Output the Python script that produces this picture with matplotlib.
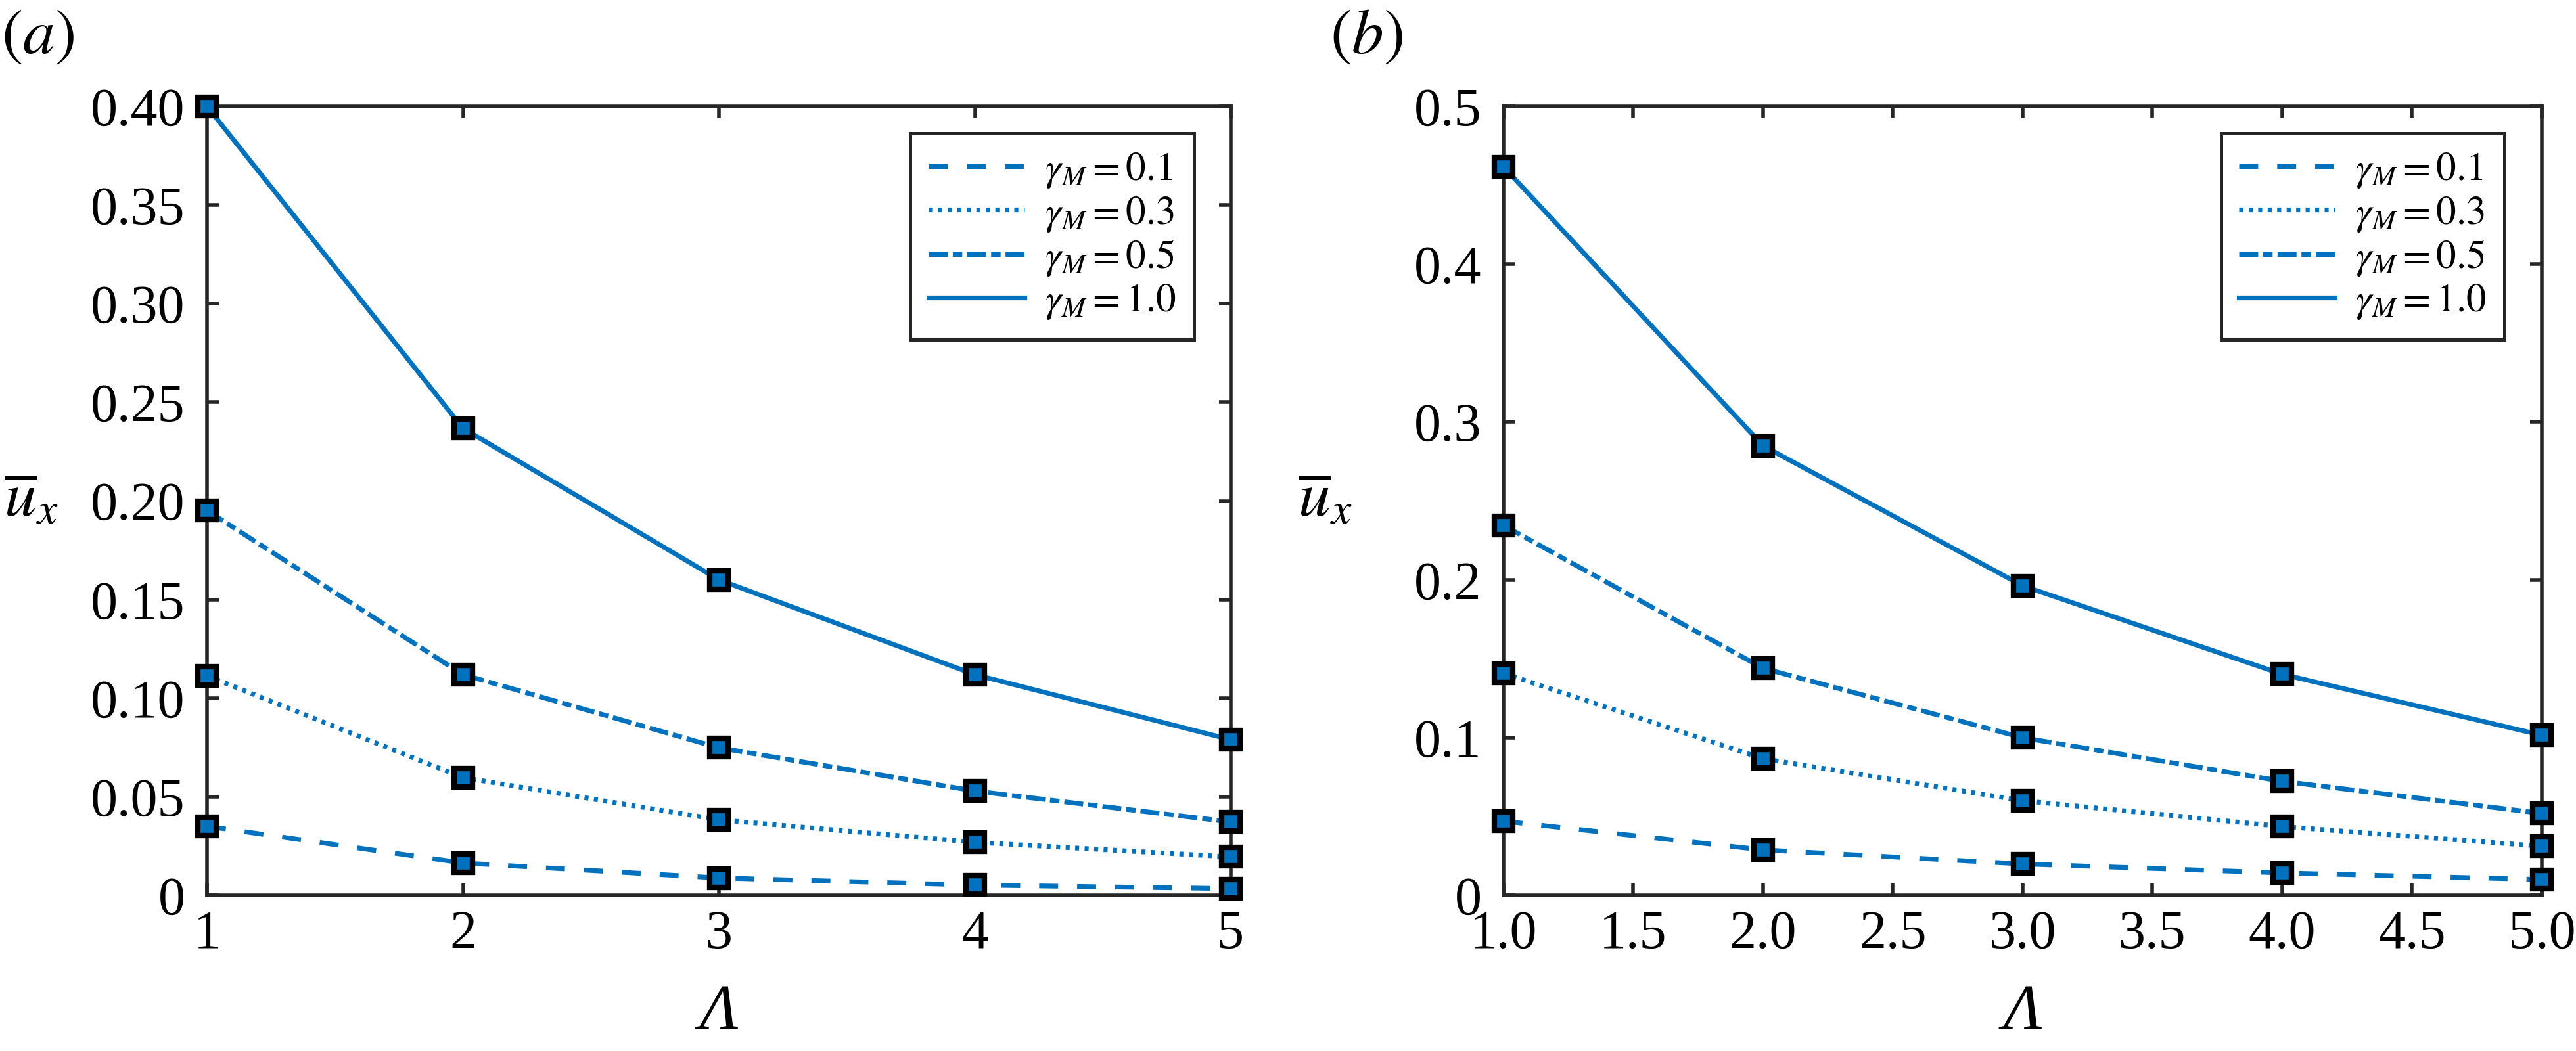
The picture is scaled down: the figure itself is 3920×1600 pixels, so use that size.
import matplotlib
matplotlib.use("Agg")
import matplotlib.pyplot as plt

plt.rcParams['font.family'] = ['Liberation Serif', 'DejaVu Serif']
plt.rcParams['mathtext.fontset'] = 'stix'
plt.rcParams['lines.scale_dashes'] = False

# data
lam = [1, 2, 3, 4, 5]
gamma_labels = ['0.1', '0.3', '0.5', '1.0']

ux_a_01 = [0.035, 0.0164, 0.0088, 0.0052, 0.0034]
ux_a_03 = [0.1113, 0.0597, 0.0383, 0.0269, 0.0195]
ux_a_05 = [0.1951, 0.1119, 0.0748, 0.0529, 0.0372]
ux_a_10 = [0.400, 0.2368, 0.1600, 0.1119, 0.0789]

ux_b_01 = [0.0470, 0.0288, 0.0199, 0.0142, 0.0100]
ux_b_03 = [0.1407, 0.0866, 0.0600, 0.0436, 0.0311]
ux_b_05 = [0.2344, 0.1439, 0.0999, 0.0723, 0.0519]
ux_b_10 = [0.4617, 0.2849, 0.1962, 0.1401, 0.1015]

yticks_a = [0, 0.05, 0.10, 0.15, 0.20, 0.25, 0.30, 0.35, 0.40]
yticklabels_a = ['0', '0.05', '0.10', '0.15', '0.20', '0.25', '0.30', '0.35', '0.40']
yticks_b = [0, 0.1, 0.2, 0.3, 0.4, 0.5]
yticklabels_b = ['0', '0.1', '0.2', '0.3', '0.4', '0.5']
xticks_a = [1, 2, 3, 4, 5]
xticklabels_a = ['1', '2', '3', '4', '5']
xticks_b = [1.0, 1.5, 2.0, 2.5, 3.0, 3.5, 4.0, 4.5, 5.0]
xticklabels_b = ['1.0', '1.5', '2.0', '2.5', '3.0', '3.5', '4.0', '4.5', '5.0']

blue = '#0072BD'
axcol = '#262626'
styles = [(0, (10.4, 10.4)), (0, (2.2, 3.0)), (0, (10.4, 2.7, 5.2, 2.7)), '-']

fig = plt.figure(figsize=(19.6, 8), dpi=200)
ax_a = fig.add_axes([0.08036, 0.148125, 0.39745, 0.750625])
ax_b = fig.add_axes([0.58367, 0.148125, 0.40306, 0.750625])


def draw(ax, series, xlim, ylim, xt, xtl, yt, ytl):
    for vals, ls, g in zip(series, styles, gamma_labels):
        # line only (goes into the legend), markers on top without label
        ax.plot(lam, vals, linestyle=ls, color=blue, linewidth=2.6,
                clip_on=False, zorder=4, label=r'$\gamma_M = %s$' % g)
        ax.plot(lam, vals, linestyle='none', marker='s', markersize=10.2,
                markerfacecolor=blue, markeredgecolor='black',
                markeredgewidth=3.0, clip_on=False, zorder=5)
    ax.set_xlim(*xlim)
    ax.set_ylim(*ylim)
    ax.set_xticks(xt)
    ax.set_xticklabels(xtl)
    ax.set_yticks(yt)
    ax.set_yticklabels(ytl)
    ax.tick_params(direction='in', length=6.5, width=2.0, colors=axcol,
                   labelcolor='black', labelsize=29.5,
                   top=True, right=True)
    ax.tick_params(axis='x', pad=8)
    ax.tick_params(axis='y', pad=12)
    for sp in ax.spines.values():
        sp.set_linewidth(2.0)
        sp.set_color(axcol)
    ax.set_xlabel('Λ', fontstyle='italic', fontsize=35)
    ax.xaxis.set_label_coords(0.5, -0.15)
    ax.xaxis.label.set_va('center')
    ax.set_ylabel(r'$\overline{u}_x$', fontsize=35, rotation=0)
    ax.yaxis.set_label_coords(-0.172, 0.5)
    ax.yaxis.label.set_va('center')
    ax.yaxis.label.set_ha('center')
    leg = ax.legend(loc='upper right', bbox_to_anchor=(0.964, 0.966),
                    borderaxespad=0, fontsize=22, handlelength=2.39,
                    handletextpad=0.5, labelspacing=0.12, borderpad=0.45,
                    fancybox=False, framealpha=1, edgecolor=axcol)
    leg.get_frame().set_linewidth(1.8)
    leg.set_zorder(10)


draw(ax_a, [ux_a_01, ux_a_03, ux_a_05, ux_a_10], (1, 5), (0, 0.40),
     xticks_a, xticklabels_a, yticks_a, yticklabels_a)
draw(ax_b, [ux_b_01, ux_b_03, ux_b_05, ux_b_10], (1, 5), (0, 0.5),
     xticks_b, xticklabels_b, yticks_b, yticklabels_b)

fig.text(0.01454, 0.9644, r'$(\mathit{a})$', fontsize=35, ha='center', va='center')
fig.text(0.5304, 0.9644, r'$(\mathit{b})$', fontsize=35, ha='center', va='center')

fig.savefig('out.png', dpi=200)
